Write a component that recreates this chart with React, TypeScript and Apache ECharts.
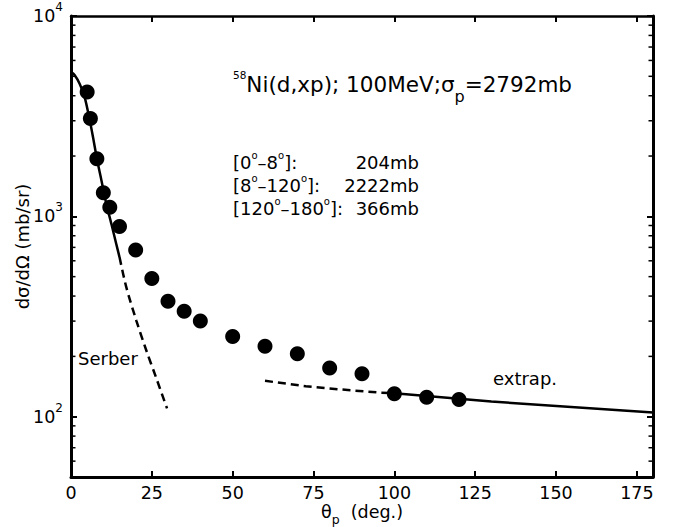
import React, { useEffect, useRef } from 'react';
import * as echarts from 'echarts';

// measured cross-section points (deg, mb/sr)
const dataAngles = [5, 6, 8, 10, 12, 15, 20, 25, 30, 35, 40, 50, 60, 70, 80, 90, 100, 110, 120];
const dataValues = [4180, 3080, 1940, 1310, 1110, 890, 680, 490, 377, 336, 300, 251, 225, 206, 175, 164, 130, 125, 122];

// Serber curve: solid part then dashed part
const serberSolidAngles = [0, 1.1, 2.7, 4.2, 5.8, 6.8, 8, 9.4, 10.9, 12.5, 14, 15];
const serberSolidValues = [5266, 5070, 4580, 3950, 3020, 2490, 1943, 1514, 1157, 915, 728, 626];
const serberDashAngles = [15, 17.1, 20.2, 23.3, 26.3, 29.7];
const serberDashValues = [626, 443, 302, 214, 157, 110];

// extrapolation: dashed part then solid part
const extrapDashAngles = [60, 72.6, 82.9, 95.2, 100];
const extrapDashValues = [151, 142, 137, 132, 131];
const extrapSolidAngles = [100, 130, 180];
const extrapSolidValues = [131, 119, 105];

// axis ticks
const yMajorExponents = [2, 3, 4];
const yMinorTicks = [60, 70, 80, 90, 200, 300, 400, 500, 600, 700, 800, 900, 2000, 3000, 4000, 5000, 6000, 7000, 8000, 9000];

const zip = (a: number[], b: number[]) => a.map((x, i) => [x, b[i]]);

export default function App() {
  const ref = useRef<HTMLDivElement>(null);
  useEffect(() => {
    const chart = echarts.init(ref.current!, null, { renderer: 'svg' });
    const font = 'DejaVu Sans';
    const axisLine = { show: true, onZero: false, lineStyle: { color: '#000', width: 3 } };
    const tick = { show: true, inside: true, length: 6, lineStyle: { color: '#000', width: 2 } };
    const lineBase = { type: 'line', showSymbol: false, symbol: 'none', smooth: 0.3, silent: true, z: 3 };

    const yFormatter = (v: number) => {
      const e = Math.round(Math.log10(v));
      if (Math.abs(Math.log10(v) - e) > 1e-6 || yMajorExponents.indexOf(e) < 0) return '';
      return `{b|10}{s|${e}}`;
    };

    const option: any = {
      animation: false,
      backgroundColor: '#fff',
      grid: { left: 71, right: 20, top: 16, bottom: 50, containLabel: false, outerBoundsMode: 'none' },
      xAxis: [
        {
          type: 'value', min: 0, max: 180, interval: 25, position: 'bottom',
          axisLine, axisTick: tick, splitLine: { show: false },
          axisLabel: {
            color: '#000', fontFamily: font, fontSize: 17.5, lineHeight: 16, margin: 8,
            formatter: (v: number) => (v > 177 ? '' : String(v)),
          },
          name: '{t|θ}{s|p}{n|  (deg.)}',
          nameLocation: 'middle', nameGap: 24.5, nameMoveOverlap: false,
          nameTextStyle: {
            rich: {
              t: { fontFamily: font, fontSize: 17.5, lineHeight: 20, color: '#000' },
              n: { fontFamily: font, fontSize: 17.5, lineHeight: 20, color: '#000' },
              s: { fontFamily: font, fontSize: 12.5, height: 4, lineHeight: 4, verticalAlign: 'bottom', color: '#000' },
            },
          },
        },
        {
          type: 'value', min: 0, max: 180, interval: 25, position: 'top',
          axisLine: { ...axisLine, lineStyle: { color: '#000', width: 2.5 } }, axisTick: tick,
          splitLine: { show: false }, axisLabel: { show: false },
        },
      ],
      yAxis: [
        {
          type: 'log', logBase: 10, min: 50, max: 10000, position: 'left',
          axisLine, axisTick: tick, splitLine: { show: false }, minorTick: { show: false },
          axisLabel: {
            color: '#000', margin: 8, formatter: yFormatter,
            rich: {
              b: { fontFamily: font, fontSize: 17.5, lineHeight: 22, color: '#000' },
              s: { fontFamily: font, fontSize: 12, height: 4, lineHeight: 4, verticalAlign: 'top', color: '#000' },
            },
          },
          name: 'dσ/dΩ (mb/sr)', nameLocation: 'middle', nameGap: 40, nameMoveOverlap: false,
          nameTextStyle: { fontFamily: font, fontSize: 18, color: '#000' },
        },
        {
          type: 'log', logBase: 10, min: 50, max: 10000, position: 'right',
          axisLine, axisTick: tick, splitLine: { show: false }, axisLabel: { show: false },
        },
      ],
      series: [
        {
          type: 'custom', xAxisIndex: 0, yAxisIndex: 0, silent: true, clip: false, z: 6,
          data: yMinorTicks.map((v) => [0, v]),
          renderItem: (_p: any, api: any) => {
            const v = api.value(1);
            const l = api.coord([0, v]);
            const r = api.coord([180, v]);
            return {
              type: 'group',
              children: [
                { type: 'line', shape: { x1: l[0], y1: l[1], x2: l[0] + 4.5, y2: l[1] }, style: { stroke: '#000', lineWidth: 1.5 } },
                { type: 'line', shape: { x1: r[0] - 4.5, y1: r[1], x2: r[0], y2: r[1] }, style: { stroke: '#000', lineWidth: 1.5 } },
              ],
            };
          },
        },
        { ...lineBase, name: 'serberSolid', data: zip(serberSolidAngles, serberSolidValues), lineStyle: { color: '#000', width: 2.5 } },
        { ...lineBase, name: 'serberDash', data: zip(serberDashAngles, serberDashValues), lineStyle: { color: '#000', width: 2.5, type: [8, 5] } },
        { ...lineBase, name: 'extrapDash', smooth: false, data: zip(extrapDashAngles, extrapDashValues), lineStyle: { color: '#000', width: 2.5, type: [8, 5] } },
        { ...lineBase, name: 'extrapSolid', smooth: false, data: zip(extrapSolidAngles, extrapSolidValues), lineStyle: { color: '#000', width: 2.5 } },
        {
          type: 'scatter', name: 'data', data: zip(dataAngles, dataValues), symbol: 'circle', symbolSize: 15,
          itemStyle: { color: '#000', opacity: 1 }, silent: true, z: 4,
        },
      ],
      graphic: [
        {
          type: 'text', x: 233, y: 84, silent: true,
          style: {
            text: '{sup|58}{n|Ni(d,xp); 100MeV;σ}{sub|p}{n|=2792mb}',
            verticalAlign: 'middle', align: 'left', fill: '#000',
            rich: {
              n: { fontFamily: font, fontSize: 21.5, lineHeight: 30, fill: '#000' },
              sup: { fontFamily: font, fontSize: 10.5, height: 12, lineHeight: 12, verticalAlign: 'top', fill: '#000' },
              sub: { fontFamily: font, fontSize: 16, height: 6, lineHeight: 6, verticalAlign: 'bottom', fill: '#000' },
            },
          },
        },
        ...[
          ['[0', '8', ']:', '204mb', 162],
          ['[8', '120', ']:', '2222mb', 185],
          ['[120', '180', ']:', '366mb', 208],
        ].flatMap(([a, b, c, val, y]) => [
          {
            type: 'text', x: 233, y, silent: true,
            style: {
              text: `{n|${a}}{sup|o}{n|–${b}}{sup|o}{n|${c}}`,
              verticalAlign: 'middle', align: 'left', fill: '#000',
              rich: {
                n: { fontFamily: font, fontSize: 18, lineHeight: 24, fill: '#000' },
                sup: { fontFamily: font, fontSize: 10, height: 10, lineHeight: 10, verticalAlign: 'top', fill: '#000' },
              },
            },
          },
          {
            type: 'text', x: 419, y, silent: true,
            style: { text: val, fontFamily: font, fontSize: 18, fill: '#000', align: 'right', verticalAlign: 'middle' },
          },
        ]),
        {
          type: 'text', x: 78, y: 358, silent: true,
          style: { text: 'Serber', fontFamily: font, fontSize: 18, fill: '#000', align: 'left', verticalAlign: 'middle' },
        },
        {
          type: 'text', x: 493, y: 378, silent: true,
          style: { text: 'extrap.', fontFamily: font, fontSize: 18, fill: '#000', align: 'left', verticalAlign: 'middle' },
        },
      ],
    };
    chart.setOption(option);
    return () => chart.dispose();
  }, []);
  return (
    <div
      ref={ref}
      style={{ position: 'absolute', left: 0, top: 0, width: 673, height: 527, background: '#fff' }}
    />
  );
}
